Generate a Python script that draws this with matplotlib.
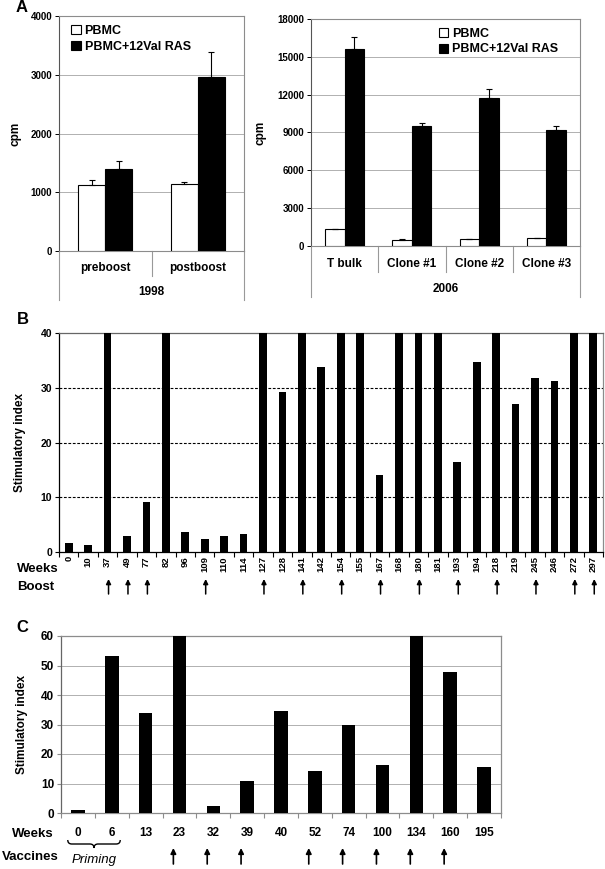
import matplotlib
matplotlib.use("Agg")
import matplotlib.pyplot as plt
from matplotlib.patches import PathPatch
from matplotlib.path import Path
import matplotlib.transforms as mtrans
import numpy as np

plt.rcParams['font.family'] = ['Liberation Sans', 'DejaVu Sans']
plt.rcParams['font.weight'] = 'bold'

# ---------------- data ----------------
a1_categories = ["preboost", "postboost"]
a1_group = "1998"
a1_pbmc = [1122, 1145]
a1_pbmc_err = [95, 35]
a1_ras = [1396, 2957]
a1_ras_err = [130, 430]

a2_categories = ["T bulk", "Clone #1", "Clone #2", "Clone #3"]
a2_group = "2006"
a2_pbmc = [1320, 476, 529, 608]
a2_pbmc_err = [55, 50, 30, 30]
a2_ras = [15650, 9490, 11740, 9170]
a2_ras_err = [950, 240, 710, 370]

series_names = ["PBMC", "PBMC+12Val RAS"]

b_weeks = ["0", "10", "37", "49", "77", "82", "96", "109", "110", "114", "127",
           "128", "141", "142", "154", "155", "167", "168", "180", "181", "193",
           "194", "218", "219", "245", "246", "272", "297"]
b_si = [1.6, 1.2, 40, 3.0, 9.1, 40, 3.7, 2.4, 2.9, 3.35, 40,
        29.3, 40, 33.8, 40, 40, 14.0, 40, 40, 40, 16.5,
        34.7, 40, 27.1, 31.7, 31.2, 40, 40]
b_boost = ["37", "49", "77", "109", "127", "141", "154", "167", "180", "193",
           "218", "245", "272", "297"]
b_yticks = [0, 10, 20, 30, 40]

c_weeks = ["0", "6", "13", "23", "32", "39", "40", "52", "74", "100", "134", "160", "195"]
c_si = [0.9, 53.3, 33.9, 60, 2.4, 10.8, 34.7, 14.2, 29.8, 16.2, 60, 47.8, 15.7]
c_vaccines = ["23", "32", "39", "52", "74", "100", "134", "160"]
c_priming = ["0", "6"]
c_yticks = [0, 10, 20, 30, 40, 50, 60]

# ---------------- figure ----------------
W, H = 605, 869
fig = plt.figure(figsize=(W / 100, H / 100), dpi=100)


def ax_px(x0, y0, x1, y1):
    return fig.add_axes([x0 / W, 1 - y1 / H, (x1 - x0) / W, (y1 - y0) / H])


GRAYSPINE = '#8c8c8c'


def panel_a(ax, cats, pbmc, pbmc_err, ras, ras_err, ymax, ystep, group,
            inner_drop, outer_drop, cat_y, grp_y, legend_loc, legend_anchor):
    n = len(cats)
    x = np.arange(n)
    w = 0.29
    ax.bar(x - w / 2, pbmc, w, color='white', edgecolor='black', linewidth=0.8,
           label=series_names[0], zorder=3,
           yerr=[np.zeros(n), pbmc_err], error_kw=dict(ecolor='black', elinewidth=0.8, capsize=2.5, capthick=0.8))
    ax.bar(x + w / 2, ras, w, color='black', edgecolor='black', linewidth=0.8,
           label=series_names[1], zorder=3,
           yerr=[np.zeros(n), ras_err], error_kw=dict(ecolor='black', elinewidth=0.8, capsize=2.5, capthick=0.8))
    ax.set_xlim(-0.5, n - 0.5)
    ax.set_ylim(0, ymax)
    ax.set_yticks(np.arange(0, ymax + 1, ystep))
    ax.yaxis.grid(True, color='#b0b0b0', linewidth=0.7, zorder=0)
    ax.set_axisbelow(True)
    ax.set_xticks([])
    ax.tick_params(axis='y', labelsize=7.0, length=3, width=0.7, pad=2)
    for lab in ax.get_yticklabels():
        lab.set_fontweight('bold')
    for s in ['top', 'right', 'left']:
        ax.spines[s].set_color(GRAYSPINE)
        ax.spines[s].set_linewidth(0.8)
    ax.spines['bottom'].set_color(GRAYSPINE)
    ax.spines['bottom'].set_linewidth(0.8)
    ax.spines['left'].set_color('#555555')
    ax.set_ylabel('cpm', fontsize=8.5, fontweight='bold')
    # category axis lines
    for i in range(n + 1):
        xa = i / n
        drop = outer_drop if i in (0, n) else inner_drop
        ax.plot([xa, xa], [0, drop], transform=ax.transAxes, color='#999999',
                lw=0.8, clip_on=False)
    for i, c in enumerate(cats):
        ax.text((i + 0.5) / n, cat_y, c, transform=ax.transAxes, ha='center',
                va='center', fontsize=8.5, fontweight='bold')
    ax.text(0.5, grp_y, group, transform=ax.transAxes, ha='center', va='center',
            fontsize=8.5, fontweight='bold')
    leg = ax.legend(loc=legend_loc, bbox_to_anchor=legend_anchor, frameon=False,
                    fontsize=9, handlelength=0.75,
                    handleheight=0.75, handletextpad=0.3, labelspacing=0.3,
                    borderaxespad=0.3)
    for t in leg.get_texts():
        t.set_fontweight('bold')
    return ax


# Panel A left
axA1 = ax_px(59, 16, 244, 251)
panel_a(axA1, a1_categories, a1_pbmc, a1_pbmc_err, a1_ras, a1_ras_err, 4000, 1000,
        a1_group, inner_drop=-(276 - 251) / 235, outer_drop=-(300 - 251) / 235,
        cat_y=-(268 - 251) / 235, grp_y=-(292 - 251) / 235,
        legend_loc='upper left', legend_anchor=(0.02, 1.0))
axA1.yaxis.set_label_coords(-0.2, 0.5)

# Panel A right
axA2 = ax_px(311, 19, 580, 246)
panel_a(axA2, a2_categories, a2_pbmc, a2_pbmc_err, a2_ras, a2_ras_err, 18000, 3000,
        a2_group, inner_drop=-(272 - 246) / 227, outer_drop=-(297 - 246) / 227,
        cat_y=-(264 - 246) / 227, grp_y=-(289 - 246) / 227,
        legend_loc='upper right', legend_anchor=(0.95, 1.0))
axA2.yaxis.set_label_coords(-0.165, 0.5)

# ---------------- Panel B ----------------
axB = ax_px(59, 333, 603, 552)
nb = len(b_weeks)
xb = np.arange(nb)
axB.bar(xb, b_si, 0.4, color='black', zorder=3)
axB.set_xlim(-0.5, nb - 0.5)
axB.set_ylim(0, 40)
axB.set_yticks(b_yticks)
for yv in b_yticks[1:-1]:
    axB.axhline(yv, color='black', lw=0.8, ls=(0, (2.5, 1.5)), zorder=1)
axB.set_xticks(xb)
axB.set_xticklabels(b_weeks, rotation=90, fontsize=6.8, fontweight='bold')
axB.set_xticks(np.arange(-0.5, nb), minor=True)
axB.tick_params(axis='x', which='major', length=0, pad=3)
axB.tick_params(axis='x', which='minor', length=3.5, width=0.8, direction='out')
axB.tick_params(axis='y', labelsize=7.5, length=3, width=0.8, pad=2)
for lab in axB.get_yticklabels():
    lab.set_fontweight('bold')
axB.spines['top'].set_color('#666666')
axB.spines['right'].set_color(GRAYSPINE)
axB.spines['left'].set_color('black')
axB.spines['bottom'].set_color('black')
for s in axB.spines.values():
    s.set_linewidth(0.9)
axB.set_ylabel('Stimulatory index', fontsize=8.5, fontweight='bold')
axB.yaxis.set_label_coords(-0.06, 0.5)

trB = mtrans.blended_transform_factory(axB.transData, fig.transFigure)
fig.text(17 / W, 1 - 569 / H, 'Weeks', fontsize=9.5, fontweight='bold', va='center', ha='left')
fig.text(17 / W, 1 - 587 / H, 'Boost', fontsize=9.5, fontweight='bold', va='center', ha='left')
for wk in b_boost:
    xi = b_weeks.index(wk)
    axB.annotate('', xy=(xi + 0.05, 1 - 579 / H), xytext=(xi + 0.05, 1 - 594 / H),
                 xycoords=trB, textcoords=trB, annotation_clip=False,
                 arrowprops=dict(arrowstyle='-|>', lw=1.1, color='black',
                                 mutation_scale=7, shrinkA=0, shrinkB=0))

# ---------------- Panel C ----------------
axC = ax_px(61, 636, 501, 813)
nc = len(c_weeks)
xc = np.arange(nc)
axC.bar(xc, c_si, 0.4, color='black', zorder=3)
axC.set_xlim(-0.5, nc - 0.5)
axC.set_ylim(0, 60)
axC.set_yticks(c_yticks)
axC.yaxis.grid(True, color='#b0b0b0', linewidth=0.7, zorder=0)
axC.set_axisbelow(True)
axC.set_xticks(xc)
axC.set_xticklabels(c_weeks, fontsize=8.5, fontweight='bold')
axC.set_xticks(np.arange(-0.5, nc), minor=True)
axC.tick_params(axis='x', which='major', length=0, pad=10)
axC.tick_params(axis='x', which='minor', length=3.5, width=0.8, direction='out', color=GRAYSPINE)
axC.tick_params(axis='y', labelsize=8.5, length=3, width=0.8, pad=2, color=GRAYSPINE)
for lab in axC.get_yticklabels():
    lab.set_fontweight('bold')
for s in ['top', 'right', 'bottom']:
    axC.spines[s].set_color(GRAYSPINE)
axC.spines['left'].set_color('#666666')
for s in axC.spines.values():
    s.set_linewidth(0.9)
axC.set_ylabel('Stimulatory index', fontsize=8.5, fontweight='bold')
axC.yaxis.set_label_coords(-0.075, 0.5)

trC = mtrans.blended_transform_factory(axC.transData, fig.transFigure)
fig.text(12 / W, 1 - 834 / H, 'Weeks', fontsize=9.5, fontweight='bold', va='center', ha='left')
fig.text(2 / W, 1 - 857 / H, 'Vaccines', fontsize=9.5, fontweight='bold', va='center', ha='left')
for wk in c_vaccines:
    xi = c_weeks.index(wk)
    axC.annotate('', xy=(xi - 0.18, 1 - 848 / H), xytext=(xi - 0.18, 1 - 864 / H),
                 xycoords=trC, textcoords=trC, annotation_clip=False,
                 arrowprops=dict(arrowstyle='-|>', lw=1.2, color='black',
                                 mutation_scale=8, shrinkA=0, shrinkB=0))

# brace under priming weeks
p0 = c_weeks.index(c_priming[0]) - 0.3
p1 = c_weeks.index(c_priming[-1]) + 0.25
pm = (p0 + p1) / 2
yt = 1 - 840 / H
yb = 1 - 848 / H
ym = (yt + yb) / 2
dx = 0.12
verts = [(p0, yt),
         (p0, ym), (p0 + dx, ym),
         (pm - dx, ym),
         (pm, ym), (pm, yb),
         (pm, ym), (pm + dx, ym),
         (p1 - dx, ym),
         (p1, ym), (p1, yt)]
codes = [Path.MOVETO,
         Path.CURVE3, Path.CURVE3,
         Path.LINETO,
         Path.CURVE3, Path.CURVE3,
         Path.CURVE3, Path.CURVE3,
         Path.LINETO,
         Path.CURVE3, Path.CURVE3]
brace = PathPatch(Path(verts, codes), transform=trC, fill=False, lw=1.0,
                  edgecolor='black', clip_on=False)
axC.add_artist(brace)
axC.text(pm, 1 - 860 / H, 'Priming', transform=trC, ha='center', va='center',
         fontsize=9.5, fontstyle='italic', fontweight='normal')

# panel letters
fig.text(22 / W, 1 - 8 / H, 'A', fontsize=12, fontweight='bold', ha='center', va='center')
fig.text(23 / W, 1 - 320 / H, 'B', fontsize=12, fontweight='bold', ha='center', va='center')
fig.text(22 / W, 1 - 628 / H, 'C', fontsize=12, fontweight='bold', ha='center', va='center')

fig.savefig('out.png', dpi=100)
